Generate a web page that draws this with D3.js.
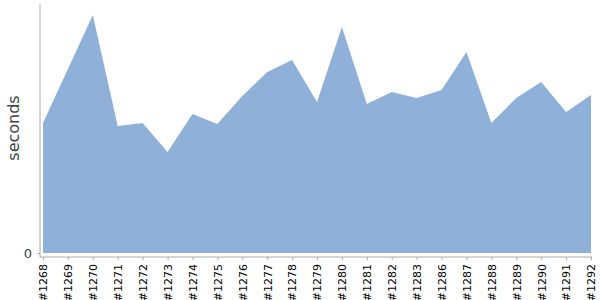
<!DOCTYPE html>
<html lang="en">
<head>
    <meta charset="UTF-8">
    <title>Build durations</title>
    <script src="https://d3js.org/d3.v7.min.js"></script>
    <style>
        body { margin: 0; background: #fff; }
        svg { display: block; }
        text { font-family: "DejaVu Sans", sans-serif; }
        .axis path, .axis line { stroke: #aaa; }
        .axis text { fill: #000; font-size: 11px; }
        .y.axis text { fill: #444; font-size: 13px; }
        .y-label { fill: #444; font-size: 16px; }
    </style>
</head>
<body>
    <script>
        const builds = ["#1268", "#1269", "#1270", "#1271", "#1272", "#1273", "#1274", "#1275",
            "#1276", "#1277", "#1278", "#1279", "#1280", "#1281", "#1282", "#1283",
            "#1286", "#1287", "#1288", "#1289", "#1290", "#1291", "#1292"];
        const seconds = [130, 184, 238, 127, 130, 101, 139, 129, 157, 181, 193, 151, 226,
            149, 161, 155, 163, 201, 130, 155, 171, 141, 158];
        const yTicks = [0];

        const width = 600, height = 300;
        const svg = d3.select("body").append("svg")
            .attr("width", width)
            .attr("height", height);

        const x = d3.scalePoint()
            .domain(builds)
            .range([43, 591]);

        const y = d3.scaleLinear()
            .domain([0, 249])
            .range([253, 4]);

        const area = d3.area()
            .x((d, i) => x(builds[i]))
            .y0(y(0))
            .y1(d => y(d));

        svg.append("path")
            .datum(seconds)
            .attr("fill", "#8fb1d9")
            .attr("d", area);

        // y axis
        const gy = svg.append("g")
            .attr("class", "y axis")
            .attr("transform", "translate(40,0)")
            .call(d3.axisLeft(y).tickValues(yTicks).tickSize(3).tickSizeOuter(0).tickPadding(5));
        gy.select(".domain").attr("d", `M0,${y.range()[1]}V257`);

        // x axis
        const gx = svg.append("g")
            .attr("class", "x axis")
            .attr("transform", "translate(0,257)")
            .call(d3.axisBottom(x).tickSize(3).tickSizeOuter(0));
        gx.select(".domain").attr("d", "M40,0H592");
        gx.selectAll("text")
            .attr("transform", "rotate(-90)")
            .attr("text-anchor", "end")
            .attr("x", -7)
            .attr("y", 0)
            .attr("dy", "0.35em");

        svg.append("text")
            .attr("class", "y-label")
            .attr("transform", "translate(19,128) rotate(-90)")
            .attr("text-anchor", "middle")
            .text("seconds");
    </script>
</body>
</html>
